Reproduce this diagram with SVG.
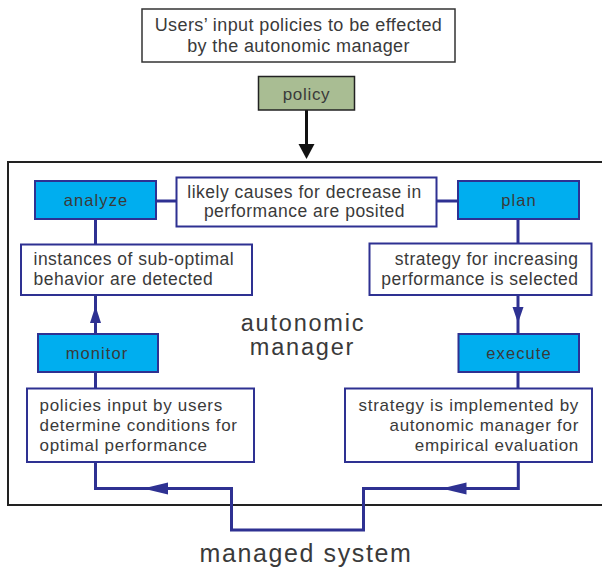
<svg xmlns="http://www.w3.org/2000/svg" width="602" height="569" viewBox="0 0 602 569">
<style>
text{font-family:"Liberation Sans",Arial,sans-serif;fill:#3a3a3a;}
.top{font-size:18px;letter-spacing:0.4px;}
.t2{font-size:17.5px;letter-spacing:0.5px;}
.t3{font-size:17px;letter-spacing:0.7px;}
.lab{font-size:16.5px;letter-spacing:1.1px;}
.big{font-size:23.5px;letter-spacing:1.8px;}
.box{fill:#fff;stroke:#2e3192;stroke-width:2;}
.act{fill:#00aeef;stroke:#2e3192;stroke-width:2;}
.ln{fill:none;stroke:#2e3192;stroke-width:3;}
.m{text-anchor:middle;}
.e{text-anchor:end;}
</style>
<rect id="frame" x="8" y="162" width="600" height="343" fill="#fff" stroke="#222" stroke-width="2"/>
<g id="connectors">
<line x1="306.5" y1="110" x2="306.5" y2="146" stroke="#111" stroke-width="3"/>
<path d="M298.5,144 L314.5,144 L306.5,159 z" fill="#111"/>
<line class="ln" x1="156" y1="201" x2="176" y2="201"/>
<line class="ln" x1="437" y1="201" x2="458" y2="201"/>
<line class="ln" x1="95.5" y1="219" x2="95.5" y2="244"/>
<line class="ln" x1="518" y1="219" x2="518" y2="243"/>
<line class="ln" x1="95.5" y1="372" x2="95.5" y2="388"/>
<line class="ln" x1="518" y1="372" x2="518" y2="388"/>
<line class="ln" x1="95.5" y1="334" x2="95.5" y2="295"/>
<path d="M95.5,306 L101,323 L90,323 z" fill="#2e3192"/>
<line class="ln" x1="518" y1="295" x2="518" y2="334"/>
<path d="M518,323 L512.5,307 L523.5,307 z" fill="#2e3192"/>
<path class="ln" d="M95.5,462 V488.5 H231.5 V530 H363.5 V488.5 H518.3 V462"/>
<path d="M143,488.5 L168,482.5 L168,494.5 z" fill="#2e3192"/>
<path d="M441.5,488.5 L466.5,482.5 L466.5,494.5 z" fill="#2e3192"/>
</g>
<g id="users-input">
<rect x="142" y="9" width="313" height="53" fill="#fff" stroke="#333" stroke-width="1.5"/>
<text class="top m" x="298.5" y="31">Users’ input policies to be effected</text>
<text class="top m" x="298.5" y="52">by the autonomic manager</text>
</g>
<g id="policy">
<rect x="258.5" y="76.5" width="96" height="33.5" fill="#a9bd93" stroke="#222" stroke-width="1.5"/>
<text class="t3 m" x="306.5" y="100">policy</text>
</g>
<g id="analyze">
<rect class="act" x="35" y="181" width="121" height="38"/>
<text class="lab m" x="96" y="205.5">analyze</text>
</g>
<g id="likely-causes">
<rect class="box" x="176.5" y="177.5" width="260" height="49"/>
<text class="t2 m" x="304.5" y="198">likely causes for decrease in</text>
<text class="t2 m" x="304.5" y="217">performance are posited</text>
</g>
<g id="plan">
<rect class="act" x="458" y="181" width="121" height="38"/>
<text class="lab m" x="519" y="205.5">plan</text>
</g>
<g id="instances">
<rect class="box" x="21" y="244.5" width="231" height="50.5"/>
<text class="t2" x="33.5" y="264.5">instances of sub-optimal</text>
<text class="t2" x="33.5" y="284.5">behavior are detected</text>
</g>
<g id="strategy-select">
<rect class="box" x="369.5" y="243.5" width="222" height="51.5"/>
<text class="t2 e" x="578.5" y="264.5">strategy for increasing</text>
<text class="t2 e" x="578.5" y="284.5">performance is selected</text>
</g>
<g id="autonomic-manager">
<text class="big m" x="303" y="331">autonomic</text>
<text class="big m" x="302.5" y="355">manager</text>
</g>
<g id="monitor">
<rect class="act" x="38" y="334" width="120" height="38"/>
<text class="lab m" x="97" y="359">monitor</text>
</g>
<g id="execute">
<rect class="act" x="458.5" y="334" width="120.5" height="38"/>
<text class="lab m" x="519" y="359">execute</text>
</g>
<g id="policies-input">
<rect class="box" x="27" y="388.5" width="227" height="73.5"/>
<text class="t3" x="39.5" y="410.5">policies input by users</text>
<text class="t3" x="39.5" y="430.5">determine conditions for</text>
<text class="t3" x="39.5" y="450.5">optimal performance</text>
</g>
<g id="strategy-implemented">
<rect class="box" x="345" y="388.5" width="247" height="73.5"/>
<text class="t3 e" x="579" y="410.5">strategy is implemented by</text>
<text class="t3 e" x="579" y="430.5">autonomic manager for</text>
<text class="t3 e" x="579" y="450.5">empirical evaluation</text>
</g>
<g id="managed-system">
<text class="big m" x="306" y="562" style="font-size:25px;letter-spacing:1.6px">managed system</text>
</g>
</svg>
